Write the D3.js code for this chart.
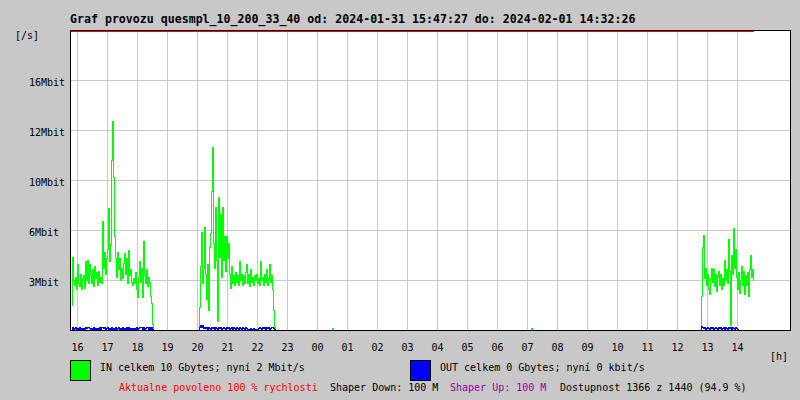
<!DOCTYPE html>
<html>
<head>
<meta charset="utf-8">
<script src="https://cdn.jsdelivr.net/npm/d3@7"></script>
<style>
  html, body { margin: 0; padding: 0; background: #c8c8c8; }
  svg { display: block; }
  text { font-family: "DejaVu Sans Mono", "Liberation Mono", monospace; }
</style>
</head>
<body>
<svg id="chart" width="800" height="400"></svg>
<script>
// ---------- data ----------
const title = "Graf provozu quesmpl_10_200_33_40 od: 2024-01-31 15:47:27 do: 2024-02-01 14:32:26";
const periodStart = "2024-01-31T15:47:27";
const periodEnd = "2024-02-01T14:32:26";
const yUnit = "[/s]";
const xUnit = "[h]";
const yTickValues = [3.2, 6.4, 9.6, 12.8, 16];          // Mbit/s
const yTickLabels = ["3Mbit", "6Mbit", "10Mbit", "12Mbit", "16Mbit"];
const hourTicks = ["2024-01-31T16:00","2024-01-31T17:00","2024-01-31T18:00","2024-01-31T19:00",
  "2024-01-31T20:00","2024-01-31T21:00","2024-01-31T22:00","2024-01-31T23:00","2024-02-01T00:00",
  "2024-02-01T01:00","2024-02-01T02:00","2024-02-01T03:00","2024-02-01T04:00","2024-02-01T05:00",
  "2024-02-01T06:00","2024-02-01T07:00","2024-02-01T08:00","2024-02-01T09:00","2024-02-01T10:00",
  "2024-02-01T11:00","2024-02-01T12:00","2024-02-01T13:00","2024-02-01T14:00"];
const hourLabels = ["16","17","18","19","20","21","22","23","00","01","02","03","04","05","06","07","08","09","10","11","12","13","14"];
const sampleStepMinutes = 2;

// IN traffic (Mbit/s), segments of consecutive samples
const inStarts = ["2024-01-31T15:48:00", "2024-01-31T20:02:00", "2024-02-01T00:28:00", "2024-02-01T07:06:00", "2024-02-01T12:46:00"];
const inValues = [
  [1.6,4.7,3.2,2.9,3.4,2.6,4.2,3.0,2.8,3.6,
   2.6,3.3,3.5,2.7,4.4,3.2,4.5,3.0,4.2,3.5,
   3.0,3.9,2.8,4.1,3.3,3.7,2.9,3.8,3.1,3.4,
   3.0,7.0,4.0,5.0,3.6,4.6,5.2,7.8,4.4,5.5,
   10.9,13.4,9.8,6.0,4.6,3.4,5.0,3.9,4.6,3.2,
   4.0,3.3,4.3,4.9,3.6,4.6,3.0,5.1,3.5,3.9,
   3.1,2.9,3.3,3.0,3.7,2.6,2.1,3.4,4.4,3.1,
   4.0,2.1,5.7,3.5,3.0,3.9,2.8,3.4,3.1,2.2,
   1.7,0.4,0],
  [0.2,1.5,4.1,6.3,3.0,4.0,6.6,3.6,2.0,4.2,
   1.3,5.3,6.2,8.9,11.7,5.6,4.0,7.9,4.5,0.6,
   8.5,4.7,7.4,3.4,7.9,4.5,6.0,3.8,6.0,4.6,
   5.6,3.6,2.7,4.1,3.0,3.5,2.9,3.7,3.1,3.5,
   2.9,4.4,3.2,3.6,2.9,3.5,3.0,3.7,4.2,3.0,
   3.6,2.8,3.9,3.1,3.4,2.9,3.5,3.2,3.6,3.0,
   3.3,2.9,4.4,3.2,3.4,2.9,3.6,3.1,3.9,2.9,
   3.3,4.2,3.1,3.5,2.6,1.3,0.2,0],
  [0,0.1,0],
  [0,0.1,0],
  [0.2,2.2,5.3,6.1,3.3,4.0,2.9,3.6,2.6,2.3,
   3.3,4.0,3.1,3.9,2.8,3.6,2.5,3.4,3.8,2.9,
   3.6,2.6,3.3,2.9,4.5,3.2,3.9,3.0,5.8,3.8,
   0.3,4.8,3.6,6.5,4.0,5.2,3.4,2.6,3.7,2.4,
   3.2,4.1,2.9,3.8,2.3,3.5,2.9,3.7,2.2,3.9,
   4.8,3.4,3.9,3.2]
];

// OUT traffic (Mbit/s)
const outStarts = ["2024-01-31T15:48:00", "2024-01-31T20:02:00", "2024-02-01T12:46:00"];
const outValues = [
  [0.08,0.19,0.08,0.13,0.19,0.08,0.13,0.08,0.19,0.08,
   0.13,0.08,0.13,0.08,0.22,0.13,0.19,0.22,0.13,0.08,
   0.13,0.08,0.19,0.08,0.13,0.08,0.13,0.08,0.19,0.08,
   0.22,0.19,0.13,0.22,0.08,0.13,0.19,0.08,0.13,0.08,
   0.19,0.08,0.13,0.08,0.19,0.08,0.13,0.19,0.08,0.13,
   0.08,0.19,0.08,0.13,0.08,0.19,0.08,0.19,0.08,0.13,
   0.08,0.13,0.08,0.13,0.08,0.19,0.08,0.13,0.19,0.19,
   0.19,0.08,0.19,0.08,0.13,0.19,0.19,0.08,0.19,0.08,
   0.19,0.08,0],
  [0.05,0.2,0.29,0.22,0.29,0.16,0.19,0.13,0.19,0.08,
   0.19,0.13,0.08,0.19,0.13,0.19,0.08,0.19,0.13,0.08,
   0.19,0.13,0.19,0.08,0.13,0.19,0.13,0.08,0.19,0.13,
   0.19,0.08,0.13,0.19,0.08,0.19,0.13,0.08,0.19,0.13,
   0.08,0.19,0.13,0.08,0.19,0.13,0.08,0.19,0.13,0.08,
   0.05,0.05,0.1,0.05,0.05,0.1,0.05,0.05,0.05,0.05,
   0.13,0.19,0.13,0.08,0.19,0.13,0.19,0.08,0.19,0.13,
   0.19,0.08,0.13,0.19,0.19,0.13,0.05,0],
  [0.05,0.25,0.19,0.13,0.19,0.08,0.13,0.19,0.13,0.08,
   0.19,0.13,0.19,0.08,0.13,0.19,0.13,0.08,0.19,0.13,
   0.19,0.08,0.13,0.19,0.08,0.19,0.13,0.08,0.19,0.13,
   0.19,0.08,0.19,0.13,0.08,0.19,0.13,0.08,0]
];

const legendIn = "IN celkem 10 Gbytes; nyní 2 Mbit/s";
const legendOut = "OUT celkem 0 Gbytes; nyní 0 kbit/s";
const footer = [
  {text: "Aktualne povoleno 100 % rychlosti", color: "#ff0000"},
  {text: "Shaper Down: 100 M", color: "#000000"},
  {text: "Shaper Up: 100 M", color: "#9a009a"},
  {text: "Dostupnost 1366 z 1440 (94.9 %)", color: "#000000"}
];
const limitValue = 100; // Mbit/s (shaper), above the visible range

// ---------- layout ----------
const svg = d3.select("#chart");
const W = 800, H = 400;
const plot = {left: 70, right: 790, top: 30, bottom: 330};
const parse = d3.isoParse;

svg.append("rect").attr("width", W).attr("height", H).attr("fill", "#c8c8c8");

const x = d3.scaleTime()
  .domain([new Date(2024, 0, 31, 15, 45), new Date(2024, 1, 1, 15, 45)])
  .range([plot.left, plot.right]);
const y = d3.scaleLinear()
  .domain([0, 19.2])
  .range([plot.bottom + 0.5, plot.top + 0.5])
  .clamp(true);

// plot background
svg.append("rect")
  .attr("x", plot.left).attr("y", plot.top)
  .attr("width", plot.right - plot.left).attr("height", plot.bottom - plot.top)
  .attr("fill", "#ffffff");

const hourDates = hourTicks.map(s => parse(s));

// grid
const grid = svg.append("g").attr("stroke", "#c8c8c8").attr("stroke-width", 1).attr("shape-rendering", "crispEdges");
grid.selectAll("line.v").data(hourDates).join("line")
  .attr("class", "v")
  .attr("x1", d => x(d)).attr("x2", d => x(d))
  .attr("y1", plot.top).attr("y2", plot.bottom);
grid.selectAll("line.h").data(yTickValues).join("line")
  .attr("class", "h")
  .attr("x1", plot.left).attr("x2", plot.right)
  .attr("y1", d => y(d)).attr("y2", d => y(d));

// series
function toPoints(starts, values) {
  return starts.map((s, i) => {
    const t0 = parse(s);
    return values[i].map((v, j) => ({t: d3.timeMinute.offset(t0, j * sampleStepMinutes), v}));
  });
}
const line = d3.line().x(d => x(d.t)).y(d => y(d.v)).curve(d3.curveStepAfter);

svg.append("g").selectAll("path").data(toPoints(inStarts, inValues)).join("path")
  .attr("d", line).attr("fill", "none").attr("stroke", "#00ff00")
  .attr("stroke-width", 1).attr("shape-rendering", "crispEdges");

svg.append("g").selectAll("path").data(toPoints(outStarts, outValues)).join("path")
  .attr("d", line).attr("fill", "none").attr("stroke", "#0000ff")
  .attr("stroke-width", 1).attr("shape-rendering", "crispEdges");

// shaper limit (clamped to top of the plot)
svg.append("line")
  .attr("x1", x(parse(periodStart))).attr("x2", x(parse(periodEnd)))
  .attr("y1", y(limitValue) + 1).attr("y2", y(limitValue) + 1)
  .attr("stroke", "#ff0000").attr("stroke-width", 1).attr("shape-rendering", "crispEdges");

// frame
const frame = svg.append("g").attr("stroke", "#000").attr("stroke-width", 1).attr("shape-rendering", "crispEdges");
frame.append("line").attr("x1", plot.left).attr("x2", plot.right + 1).attr("y1", plot.top + 0.5).attr("y2", plot.top + 0.5);
frame.append("line").attr("x1", plot.left).attr("x2", plot.right + 1).attr("y1", plot.bottom + 0.5).attr("y2", plot.bottom + 0.5);
frame.append("line").attr("x1", plot.left + 0.5).attr("x2", plot.left + 0.5).attr("y1", plot.top).attr("y2", plot.bottom + 1);
frame.append("line").attr("x1", plot.right + 0.5).attr("x2", plot.right + 0.5).attr("y1", plot.top).attr("y2", plot.bottom + 1);

// texts
svg.append("text").attr("x", plot.left).attr("y", 23)
  .attr("font-size", "11.6px").attr("font-weight", "bold").attr("fill", "#000")
  .text(title);

svg.append("text").attr("x", 15).attr("y", 39).attr("font-size", "10px").attr("fill", "#000").text(yUnit);

svg.append("g").selectAll("text").data(yTickValues).join("text")
  .attr("x", 29).attr("y", d => y(d) + 5.5)
  .attr("font-size", "10px").attr("fill", "#000")
  .text((d, i) => yTickLabels[i]);

svg.append("g").selectAll("text").data(hourDates).join("text")
  .attr("x", d => x(d)).attr("y", 351)
  .attr("text-anchor", "middle")
  .attr("font-size", "10px").attr("fill", "#000")
  .text((d, i) => hourLabels[i]);

svg.append("text").attr("x", 770).attr("y", 359.5).attr("font-size", "10px").attr("fill", "#000").text(xUnit);

// legend
const legend = [
  {x: 70, color: "#00ff00", text: legendIn},
  {x: 410, color: "#0000ff", text: legendOut}
];
const lg = svg.append("g").selectAll("g").data(legend).join("g");
lg.append("rect")
  .attr("x", d => d.x + 0.5).attr("y", 360.5).attr("width", 20).attr("height", 20)
  .attr("fill", d => d.color).attr("stroke", "#000").attr("stroke-width", 1)
  .attr("shape-rendering", "crispEdges");
lg.append("text")
  .attr("x", d => d.x + 30).attr("y", 371)
  .attr("font-size", "10px").attr("fill", "#000")
  .text(d => d.text);

// footer
const footerX = [119, 330, 450, 560];
svg.append("g").selectAll("text").data(footer).join("text")
  .attr("x", (d, i) => footerX[i]).attr("y", 391)
  .attr("font-size", "10px").attr("fill", d => d.color)
  .text(d => d.text);
</script>
</body>
</html>
